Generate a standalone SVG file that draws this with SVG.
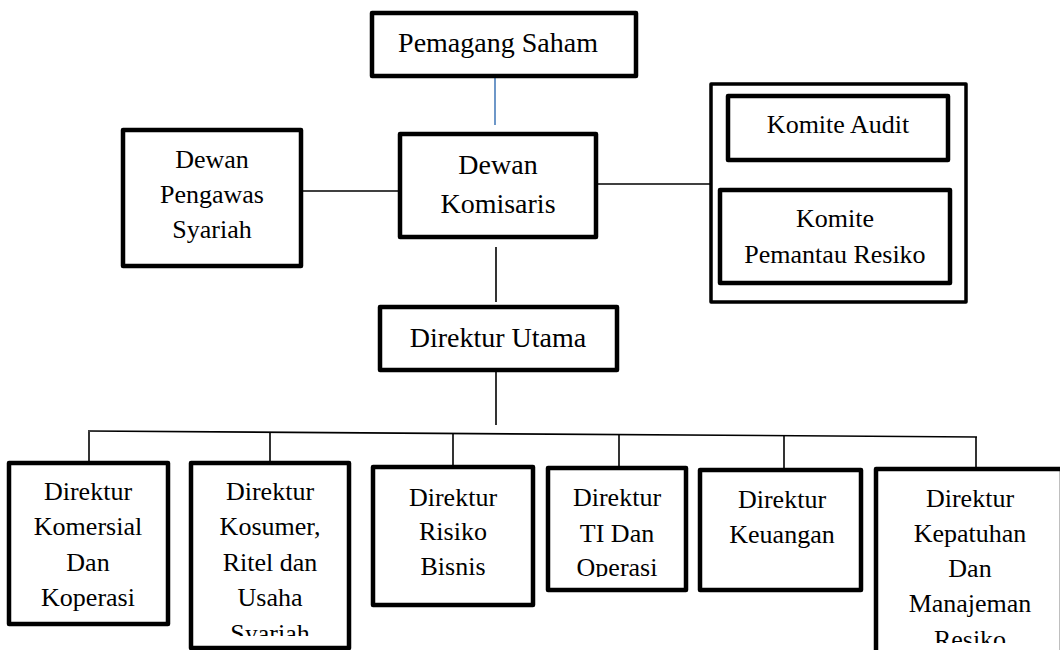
<svg xmlns="http://www.w3.org/2000/svg" width="1060" height="650" viewBox="0 0 1060 650">
  <style>
    .box { fill: #ffffff; stroke: #000000; stroke-width: 4.5; stroke-linejoin: round; }
    .frame { fill: #ffffff; stroke: #000000; stroke-width: 3.5; stroke-linejoin: round; }
    .link { fill: none; stroke: #000000; stroke-width: 1.6; }
    .link-blue { fill: none; stroke: #4a7ebb; stroke-width: 1.6; }
    text { font-family: "Liberation Serif", "Times New Roman", serif; fill: #000000; text-anchor: middle; }
    .big { font-size: 28px; }
    .lbl { font-size: 26px; }
  </style>
  <defs>
    <clipPath id="clip-kosumer"><rect x="191" y="463" width="158" height="173"/></clipPath>
    <clipPath id="clip-ti"><rect x="548" y="468" width="138" height="109"/></clipPath>
    <clipPath id="clip-kepatuhan"><rect x="876" y="469" width="184" height="174"/></clipPath>
  </defs>

  <rect width="1060" height="650" fill="#ffffff"/>

  <!-- connectors -->
  <g id="connectors">
    <line class="link-blue" x1="495" y1="78" x2="495" y2="125"/>
    <line class="link" x1="301" y1="191" x2="400" y2="191"/>
    <line class="link" x1="596" y1="184" x2="711" y2="184"/>
    <line class="link" x1="496" y1="247" x2="496" y2="302"/>
    <line class="link" x1="496" y1="370" x2="496" y2="425"/>
    <line class="link" x1="88" y1="431" x2="977" y2="437"/>
    <line class="link" x1="89" y1="432" x2="89" y2="461"/>
    <line class="link" x1="270" y1="432" x2="270" y2="461"/>
    <line class="link" x1="453" y1="434" x2="453" y2="466"/>
    <line class="link" x1="619" y1="435" x2="619" y2="467"/>
    <line class="link" x1="784" y1="436" x2="784" y2="469"/>
    <line class="link" x1="976" y1="437" x2="976" y2="468"/>
  </g>

  <g id="pemagang-saham">
    <rect class="box" x="372" y="13" width="264" height="63"/>
    <text class="big" x="498" y="52">Pemagang Saham</text>
  </g>

  <g id="dewan-pengawas-syariah">
    <rect class="box" x="123" y="130" width="178" height="136"/>
    <text class="lbl" x="212" y="168">Dewan</text>
    <text class="lbl" x="212" y="203">Pengawas</text>
    <text class="lbl" x="212" y="238">Syariah</text>
  </g>

  <g id="dewan-komisaris">
    <rect class="box" x="400" y="134" width="196" height="103"/>
    <text class="big" x="498" y="174">Dewan</text>
    <text class="big" x="498" y="213">Komisaris</text>
  </g>

  <g id="komite">
    <rect class="frame" x="711" y="84" width="255" height="218"/>
    <g id="komite-audit">
      <rect class="box" x="728" y="96" width="220" height="64"/>
      <text class="lbl" x="838" y="133">Komite Audit</text>
    </g>
    <g id="komite-pemantau-resiko">
      <rect class="box" x="720" y="190" width="230" height="93"/>
      <text class="lbl" x="835" y="227">Komite</text>
      <text class="lbl" x="835" y="263">Pemantau Resiko</text>
    </g>
  </g>

  <g id="direktur-utama">
    <rect class="box" x="380" y="307" width="237" height="63"/>
    <text class="big" x="498" y="347">Direktur Utama</text>
  </g>

  <g id="direktur-komersial">
    <rect class="box" x="9" y="463" width="159" height="161"/>
    <text class="lbl" x="88" y="500">Direktur</text>
    <text class="lbl" x="88" y="535">Komersial</text>
    <text class="lbl" x="88" y="571">Dan</text>
    <text class="lbl" x="88" y="606">Koperasi</text>
  </g>

  <g id="direktur-kosumer">
    <rect class="box" x="191" y="463" width="158" height="185"/>
    <g clip-path="url(#clip-kosumer)">
      <text class="lbl" x="270" y="500">Direktur</text>
      <text class="lbl" x="270" y="535">Kosumer,</text>
      <text class="lbl" x="270" y="571">Ritel dan</text>
      <text class="lbl" x="270" y="606">Usaha</text>
      <text class="lbl" x="270" y="642">Syariah</text>
    </g>
  </g>

  <g id="direktur-risiko-bisnis">
    <rect class="box" x="373" y="467" width="160" height="138"/>
    <text class="lbl" x="453" y="506">Direktur</text>
    <text class="lbl" x="453" y="540">Risiko</text>
    <text class="lbl" x="453" y="575">Bisnis</text>
  </g>

  <g id="direktur-ti-operasi">
    <rect class="box" x="548" y="468" width="138" height="122"/>
    <g clip-path="url(#clip-ti)">
      <text class="lbl" x="617" y="506">Direktur</text>
      <text class="lbl" x="617" y="542">TI Dan</text>
      <text class="lbl" x="617" y="576">Operasi</text>
    </g>
  </g>

  <g id="direktur-keuangan">
    <rect class="box" x="700" y="470" width="161" height="120"/>
    <text class="lbl" x="782" y="508">Direktur</text>
    <text class="lbl" x="782" y="543">Keuangan</text>
  </g>

  <g id="direktur-kepatuhan">
    <rect class="box" x="876" y="469" width="186" height="200"/>
    <g clip-path="url(#clip-kepatuhan)">
      <text class="lbl" x="970" y="507">Direktur</text>
      <text class="lbl" x="970" y="542">Kepatuhan</text>
      <text class="lbl" x="970" y="577">Dan</text>
      <text class="lbl" x="970" y="612">Manajeman</text>
      <text class="lbl" x="970" y="648">Resiko</text>
    </g>
  </g>
</svg>
